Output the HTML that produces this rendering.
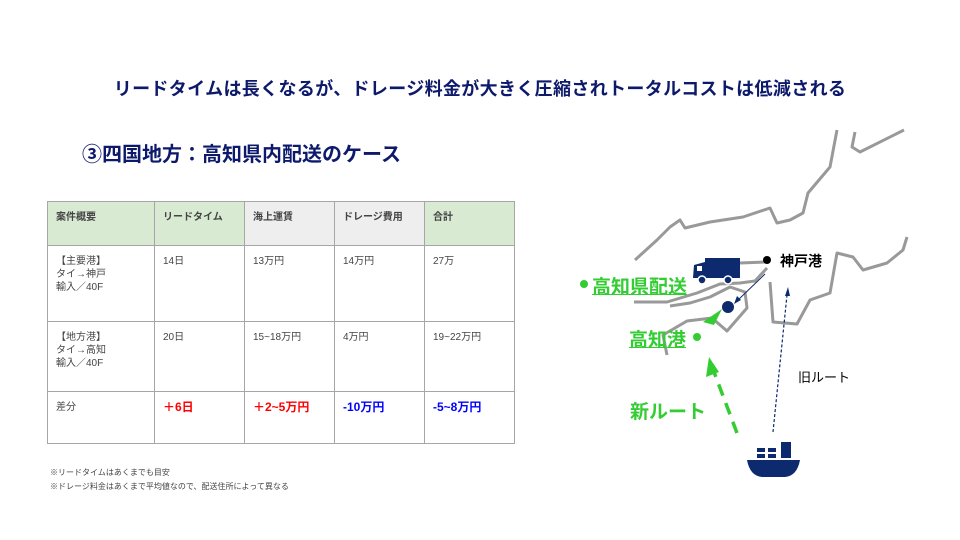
<!DOCTYPE html>
<html><head><meta charset="utf-8"><style>
body{margin:0;width:960px;height:540px;background:#fff;position:relative;overflow:hidden;font-family:"Liberation Sans","Noto Sans CJK JP",sans-serif}
.t{position:absolute;white-space:nowrap}
table{position:absolute;left:47px;top:201px;border-collapse:collapse;font-size:10px;color:#444}
td{border:1px solid #a6a6a6;vertical-align:top;padding:9px 8px;line-height:13px}
</style></head><body>
<div class="t" style="left:0;width:960px;text-align:center;top:75px;font-size:18px;letter-spacing:0.35px;font-weight:bold;color:#0d1a6b">リードタイムは長くなるが、ドレージ料金が大きく圧縮されトータルコストは低減される</div>
<div class="t" style="left:82px;top:138px;font-size:20px;font-weight:bold;color:#0d1a6b">③四国地方：高知県内配送のケース</div>
<table>
<tr style="height:44px;font-weight:bold"><td style="width:90px;background:#d9ead3">案件概要</td><td style="width:73px;background:#d9ead3">リードタイム</td><td style="width:73px;background:#eeeeee">海上運賃</td><td style="width:73px;background:#eeeeee">ドレージ費用</td><td style="width:73px;background:#d9ead3">合計</td></tr>
<tr style="height:76px"><td>【主要港】<br>タイ→神戸<br>輸入／40F</td><td>14日</td><td>13万円</td><td>14万円</td><td>27万</td></tr>
<tr style="height:70px"><td>【地方港】<br>タイ→高知<br>輸入／40F</td><td>20日</td><td>15~18万円</td><td>4万円</td><td>19~22万円</td></tr>
<tr style="height:52px"><td>差分</td><td style="color:#f00;font-weight:bold;font-size:12px">＋6日</td><td style="color:#f00;font-weight:bold;font-size:12px">＋2~5万円</td><td style="color:#00f;font-weight:bold;font-size:12px">-10万円</td><td style="color:#00f;font-weight:bold;font-size:12px">-5~8万円</td></tr>
</table>
<div class="t" style="left:50px;top:466px;font-size:8px;color:#444;line-height:14px">※リードタイムはあくまでも目安<br>※ドレージ料金はあくまで平均値なので、配送住所によって異なる</div>
<svg width="960" height="540" style="position:absolute;left:0;top:0">
<g fill="none" stroke="#999" stroke-width="3" stroke-linejoin="round">
<path d="M635,260 L657,240 L670,227 L680,220 L685,228 L710,222 L743,217 L770,208 L777,223 L790,220 L803,213 L808,193 L830,167 L837,130"/>
<path d="M904,130 L860,152 L852,147 L855,132"/>
<path d="M634,302 L667,302 L697,293 L720,284 L740,283 L755,281 L767,268"/>
<path d="M667,355 L663,335 L687,321 L712,318 L727,331 L747,308 L745,292 L730,287 L710,297 L690,303 L670,306"/>
<path d="M770,282 L773,322 L797,324 L810,300 L830,293 L837,253 L853,257 L863,270 L887,263 L903,250 L907,237"/>
<path d="M740,263 L765,262"/>
</g>
<g fill="#0d2a6e">
<rect x="705" y="258" width="35" height="20"/><path d="M694,265 L705,262 L705,278 L693,278 Z"/>
<rect x="697" y="266" width="5" height="5" fill="#fff"/>
<circle cx="702" cy="280" r="4" stroke="#fff" stroke-width="1.5"/><circle cx="728" cy="280" r="4" stroke="#fff" stroke-width="1.5"/>
<circle cx="728" cy="307" r="6"/>
<path d="M747,460 L800,460 Q797,476 785,477 L762,477 Q750,476 747,460 Z"/>
<rect x="757" y="448" width="8" height="4"/><rect x="768" y="448" width="8" height="4"/>
<rect x="757" y="454" width="8" height="4"/><rect x="768" y="454" width="8" height="4"/>
<rect x="781" y="442" width="10" height="16"/>
</g>
<circle cx="767" cy="260" r="4" fill="#000"/>
<line x1="765" y1="274" x2="737" y2="301" stroke="#0d2a6e" stroke-width="1"/><path d="M734,304 L737,296 L741,300 Z" fill="#0d2a6e"/>
<line x1="773" y1="432" x2="787" y2="295" stroke="#0d2a6e" stroke-width="1.2" stroke-dasharray="3,2"/><path d="M788,287 L785,296 L790,296 Z" fill="#0d2a6e"/>
<path d="M722,309 L703,322 L714,325 Z" fill="#33cc33"/>
<line x1="737" y1="433" x2="714" y2="372" stroke="#33cc33" stroke-width="3.5" stroke-dasharray="12,8"/>
<path d="M709,357 L706,377 L719,372 Z" fill="#33cc33"/>
<circle cx="584" cy="284" r="4" fill="#33cc33"/><circle cx="697" cy="337" r="4" fill="#33cc33"/>
</svg>
<div class="t" style="left:780px;top:251px;font-size:14px;font-weight:bold;color:#000">神戸港</div>
<div class="t" style="left:592px;top:272px;font-size:19px;font-weight:bold;color:#33cc33;text-decoration:underline">高知県配送</div>
<div class="t" style="left:629px;top:325px;font-size:19px;font-weight:bold;color:#33cc33;text-decoration:underline">高知港 </div>
<div class="t" style="left:798px;top:367px;font-size:13px;color:#000">旧ルート</div>
<div class="t" style="left:630px;top:397px;font-size:19px;font-weight:bold;color:#33cc33">新ルート</div>
</body></html>
